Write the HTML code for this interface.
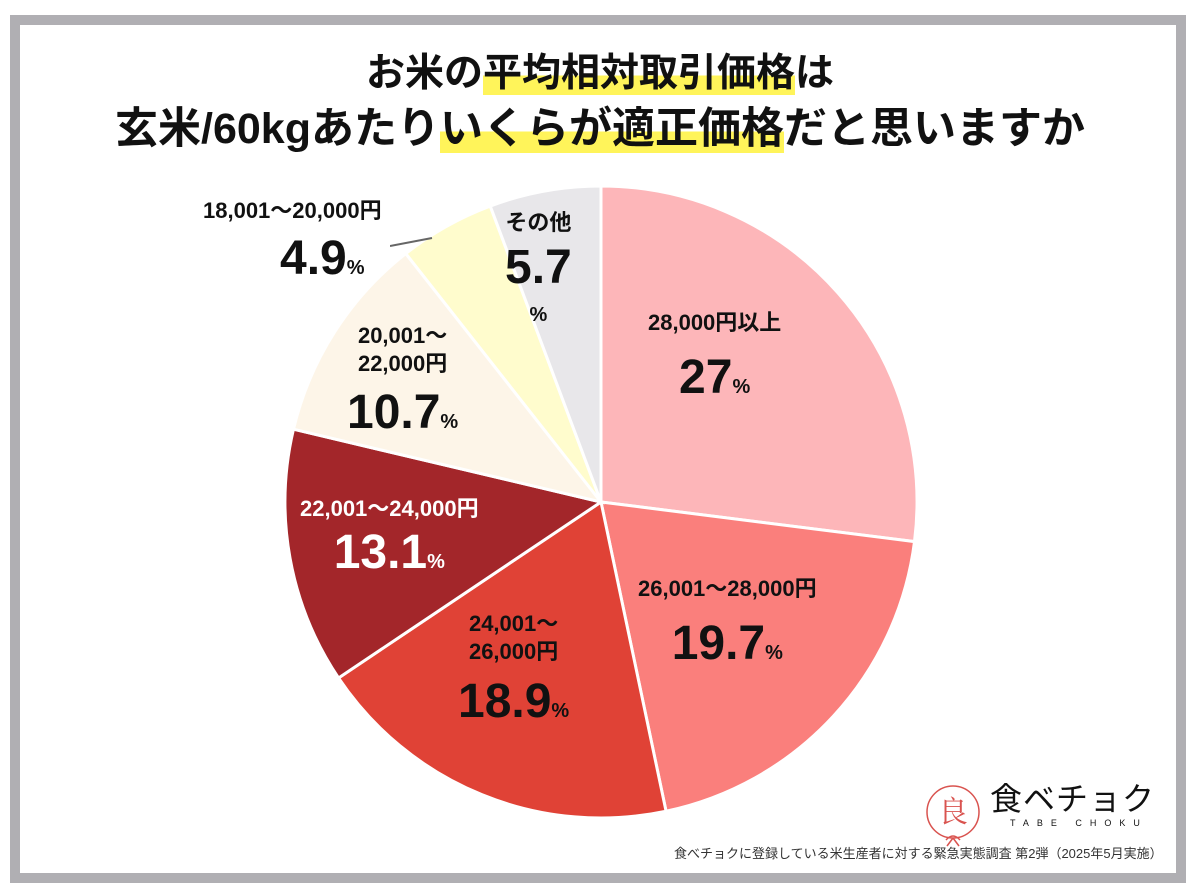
<!DOCTYPE html>
<html><head><meta charset="utf-8">
<style>
html,body{margin:0;padding:0;background:#fff;}
body{width:1200px;height:896px;position:relative;overflow:hidden;font-family:"Liberation Sans","Noto Sans CJK JP",sans-serif;}
.frame{position:absolute;left:10px;top:15px;width:1156px;height:848px;border:10px solid #b0afb3;background:#fff;}
.t{position:absolute;left:0;width:1200px;text-align:center;font-weight:bold;color:#111;white-space:nowrap;}
.hl{background:linear-gradient(transparent 55%,#fff45a 55%);}
.lbl{position:absolute;font-weight:bold;color:#111;text-align:center;white-space:nowrap;line-height:1.2;}
.w{color:#fff;}
.big{font-size:48px;}
.pc{font-size:20px;}
</style></head>
<body>
<div class="frame"></div>
<div class="t" style="top:42px;font-size:39px;">お米の<span class="hl">平均相対取引価格</span>は</div>
<div class="t" style="top:94px;font-size:43px;">玄米/60kgあたり<span class="hl">いくらが適正価格</span>だと思いますか</div>
<svg id="pie" width="1200" height="896" style="position:absolute;left:0;top:0"></svg>
<div class="lbl" style="left:648px;top:310px;font-size:22px;">28,000円以上<br><span class="big" style="line-height:84px">27</span><span class="pc">%</span></div>
<div class="lbl" style="left:638px;top:576px;font-size:22px;">26,001～28,000円<br><span class="big" style="line-height:84px">19.7</span><span class="pc">%</span></div>
<div class="lbl" style="left:458px;top:610px;font-size:22px;line-height:1.25">24,001～<br>26,000円<br><span class="big" style="line-height:74px">18.9</span><span class="pc">%</span></div>
<div class="lbl w" style="left:300px;top:496px;font-size:22px;">22,001～24,000円<br><span class="big" style="line-height:62px">13.1</span><span class="pc">%</span></div>
<div class="lbl" style="left:347px;top:322px;font-size:22px;line-height:1.25">20,001～<br>22,000円<br><span class="big" style="line-height:72px">10.7</span><span class="pc">%</span></div>
<div class="lbl" style="left:203px;top:198px;font-size:22px;">18,001～20,000円</div>
<div class="lbl" style="left:280px;top:230px;"><span class="big">4.9</span><span class="pc">%</span></div>
<div class="lbl" style="left:505px;top:210px;font-size:22px;line-height:1.15">その他<br><span class="big" style="line-height:66px">5.7</span><br><span class="pc">%</span></div>
<svg width="60" height="20" style="position:absolute;left:390px;top:232px"><line x1="0" y1="14" x2="42" y2="6" stroke="#666" stroke-width="2"/></svg>
<svg width="70" height="90" style="position:absolute;left:918px;top:770px">
<circle cx="35" cy="42" r="26" fill="none" stroke="#d9534f" stroke-width="1.5"/>
<text x="35" y="52" font-size="30" text-anchor="middle" fill="#d9534f" font-family="Noto Serif CJK SC,serif">良</text>
<path d="M28 70 q7 -8 14 0 M35 68 l-6 8 M35 68 l6 8" stroke="#d9534f" fill="none" stroke-width="1.5"/></svg>
<div class="lbl" style="left:990px;top:780px;font-size:32px;font-weight:normal;letter-spacing:1px">食ベチョク</div>
<div class="lbl" style="left:1010px;top:818px;font-size:9px;font-weight:normal;letter-spacing:8px">TABE CHOKU</div>
<div class="lbl" style="left:674px;top:846px;font-size:13px;font-weight:normal;color:#333">食べチョクに登録している米生産者に対する緊急実態調査 第2弾（2025年5月実施）</div>
<script>
const categories=["28,000円以上","26,001～28,000円","24,001～26,000円","22,001～24,000円","20,001～22,000円","18,001～20,000円","その他"];
const values=[27,19.7,18.9,13.1,10.7,4.9,5.7];
const colors=["#fdb6b9","#fa7f7c","#e04236","#a3262a","#fdf5e8","#fffccd","#e8e7ea"];
const svg=document.getElementById('pie');
const cx=601,cy=502,r=316;
const total=values.reduce((a,b)=>a+b,0);
let a0=-Math.PI/2;
values.forEach((v,i)=>{
  const a1=a0+v/total*2*Math.PI;
  const x0=cx+r*Math.cos(a0),y0=cy+r*Math.sin(a0),x1=cx+r*Math.cos(a1),y1=cy+r*Math.sin(a1);
  const p=document.createElementNS('http://www.w3.org/2000/svg','path');
  p.setAttribute('d',`M${cx},${cy}L${x0},${y0}A${r},${r} 0 ${a1-a0>Math.PI?1:0} 1 ${x1},${y1}Z`);
  p.setAttribute('fill',colors[i]);p.setAttribute('stroke','#fff');p.setAttribute('stroke-width','3');
  
  
  svg.appendChild(p);a0=a1;
});
</script>
</body></html>
